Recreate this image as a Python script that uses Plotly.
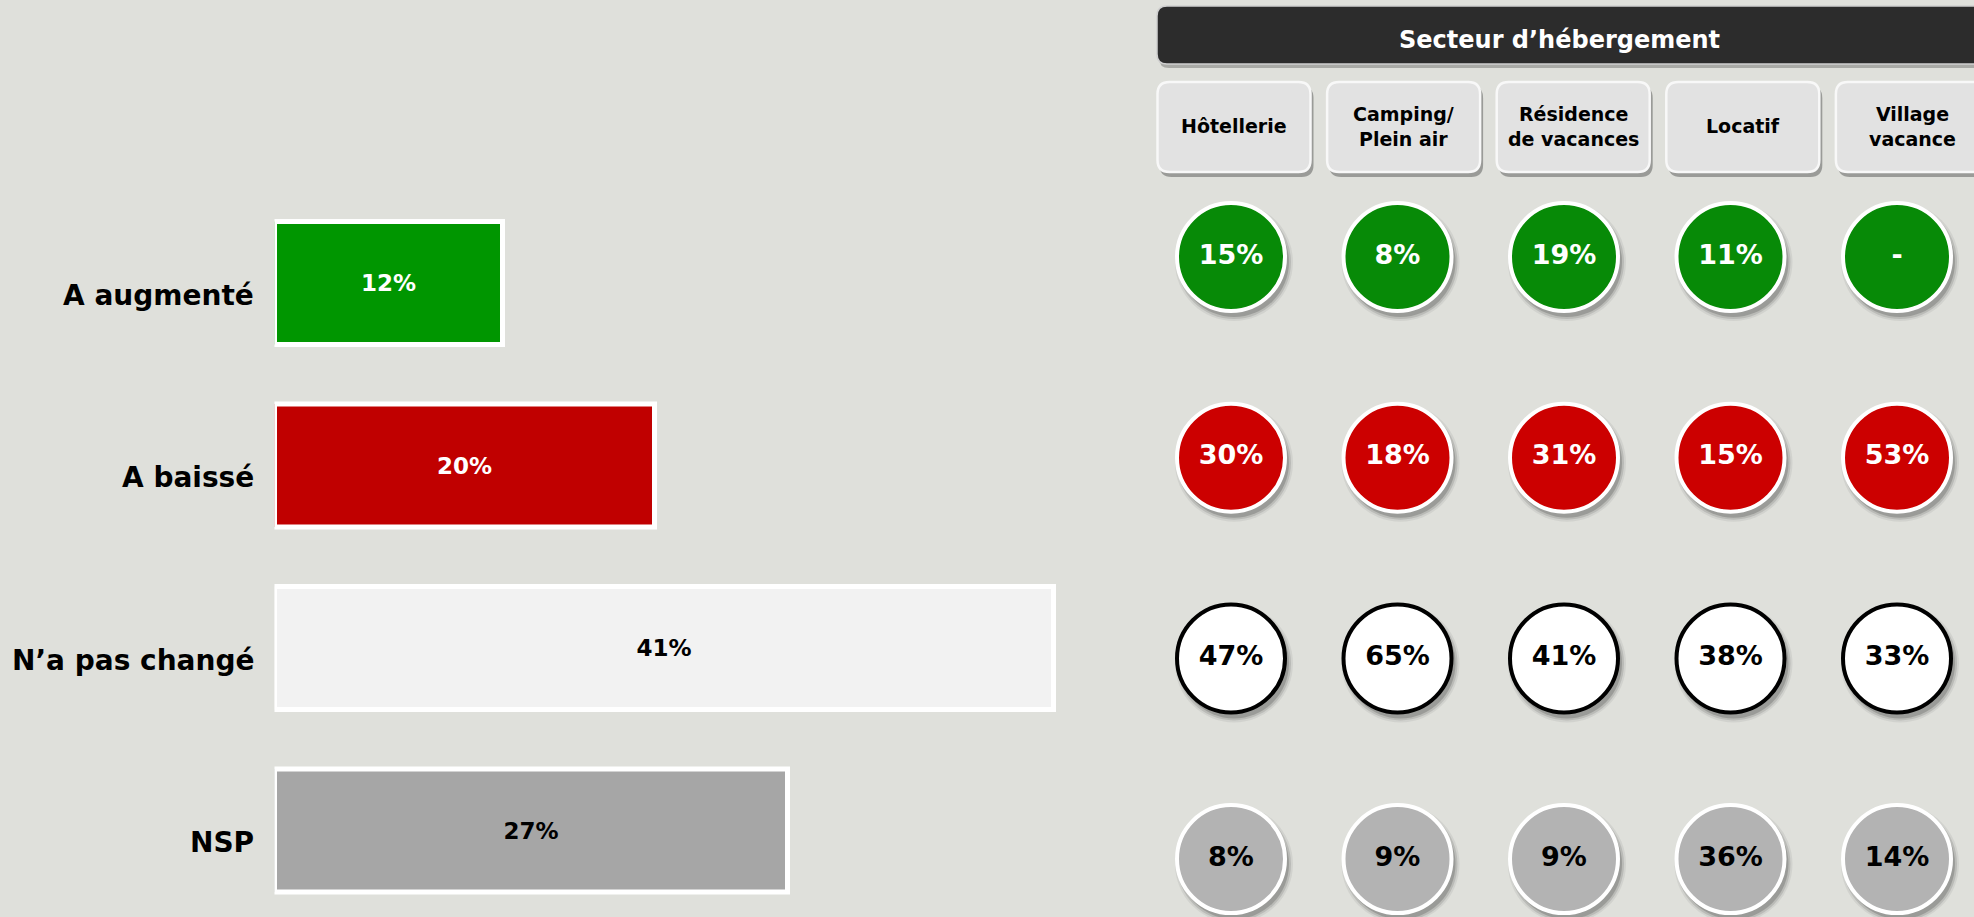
import plotly.graph_objects as go

# ---------------- data ----------------
responses = ["A augmenté", "A baissé", "N’a pas changé", "NSP"]
overall = [12, 20, 41, 27]

sectors = ["Hôtellerie", "Camping/Plein air", "Résidence de vacances", "Locatif", "Village vacance"]
sector_labels = ["Hôtellerie", "Camping/<br>Plein air", "Résidence<br>de vacances", "Locatif", "Village<br>vacance"]
panel_title = "Secteur d’hébergement"

aug_by_sector = [15, 8, 19, 11, None]
bai_by_sector = [30, 18, 31, 15, 53]
pas_by_sector = [47, 65, 41, 38, 33]
nsp_by_sector = [8, 9, 9, 36, 14]
by_sector = [aug_by_sector, bai_by_sector, pas_by_sector, nsp_by_sector]

# ---------------- style ----------------
W, H = 1974, 917
BG = "#dfe0db"
FONT = "DejaVu Sans, Verdana, sans-serif"
bar_colors = ["#009600", "#c00000", "#f2f2f2", "#a6a6a6"]
circle_colors = ["#078a07", "#cc0000", "#ffffff", "#b3b3b3"]
circle_line = ["#ffffff", "#ffffff", "#000000", "#ffffff"]
text_colors = ["#ffffff", "#ffffff", "#000000", "#000000"]


def X(p):
    return p / W


def Y(p):
    return 1 - p / H


def rrect(x0, y0, x1, y1, r):
    return (f"M {X(x0+r)},{Y(y0)} L {X(x1-r)},{Y(y0)} Q {X(x1)},{Y(y0)} {X(x1)},{Y(y0+r)} "
            f"L {X(x1)},{Y(y1-r)} Q {X(x1)},{Y(y1)} {X(x1-r)},{Y(y1)} "
            f"L {X(x0+r)},{Y(y1)} Q {X(x0)},{Y(y1)} {X(x0)},{Y(y1-r)} "
            f"L {X(x0)},{Y(y0+r)} Q {X(x0)},{Y(y0)} {X(x0+r)},{Y(y0)} Z")


fig = go.Figure()

# ---------------- left: horizontal bars ----------------
fig.add_trace(go.Bar(
    x=overall, y=responses, orientation="h",
    marker=dict(color=bar_colors, line=dict(color="#ffffff", width=5)),
    width=0.674,
    text=[f"<b>{v}%</b>" for v in overall],
    textposition="inside", insidetextanchor="middle",
    textfont=dict(family=FONT, size=23, color=text_colors),
    hoverinfo="skip", showlegend=False,
    xaxis="x", yaxis="y",
))

# ---------------- right: circles ----------------
xs, ys, txt, fills, lines, tcols = [], [], [], [], [], []
for r, row in enumerate(by_sector):
    for c, v in enumerate(row):
        xs.append(c)
        ys.append(r)
        txt.append("<b>-</b>" if v is None else f"<b>{v}%</b>")
        fills.append(circle_colors[r])
        lines.append(circle_line[r])
        tcols.append(text_colors[r])

dx, dy = 3 / 166.5, 5 / 200.7
for size, alpha in [(118, 0.06), (114, 0.11), (110, 0.17)]:
    fig.add_trace(go.Scatter(
        x=[v + dx for v in xs], y=[v + dy for v in ys], mode="markers",
        marker=dict(size=size, color=f"rgba(0,0,0,{alpha})", line=dict(width=0)),
        hoverinfo="skip", showlegend=False, xaxis="x2", yaxis="y2",
    ))

fig.add_trace(go.Scatter(
    x=xs, y=ys, mode="markers+text",
    marker=dict(size=108, color=fills, line=dict(color=lines, width=4)),
    text=txt, textposition="middle center",
    textfont=dict(family=FONT, size=27, color=tcols),
    hoverinfo="skip", showlegend=False, xaxis="x2", yaxis="y2",
))

# ---------------- decorations ----------------
shapes = []
annotations = []

# header bar
shapes.append(dict(type="path", xref="paper", yref="paper", path=rrect(1159, 9, 2010, 68, 10),
                   fillcolor="#a9aaa6", line=dict(width=0), layer="below"))
shapes.append(dict(type="path", xref="paper", yref="paper", path=rrect(1157, 6, 2008, 64, 10),
                   fillcolor="#2c2c2c", line=dict(color="#cfcfcf", width=1.5), layer="below"))
annotations.append(dict(text=f"<b>{panel_title}</b>", xref="paper", yref="paper",
                        x=X(1559), y=Y(40), xanchor="center", yanchor="middle", showarrow=False,
                        font=dict(family=FONT, size=24, color="#ffffff")))

# column header buttons
for i, lab in enumerate(sector_labels):
    cx = 1234 + 169.6 * i
    x0, x1, y0, y1 = cx - 76.5, cx + 76.5, 82, 172
    shapes.append(dict(type="path", xref="paper", yref="paper", path=rrect(x0 + 2, y0 + 4, x1 + 3, y1 + 5, 12),
                       fillcolor="#9a9b98", line=dict(width=0), layer="below"))
    shapes.append(dict(type="path", xref="paper", yref="paper", path=rrect(x0, y0, x1, y1, 12),
                       fillcolor="#e2e2e2", line=dict(color="#f8f8f8", width=2.5), layer="below"))
    annotations.append(dict(text=f"<b>{lab}</b>", xref="paper", yref="paper",
                            x=X(cx), y=Y(126), xanchor="center", yanchor="middle", showarrow=False,
                            font=dict(family=FONT, size=19, color="#000000")))

# category labels for bars
for resp in responses:
    annotations.append(dict(text=f"<b>{resp}</b>", xref="paper", yref="y",
                            x=X(256), y=resp, xanchor="right", yanchor="middle", yshift=-12,
                            showarrow=False, font=dict(family=FONT, size=28, color="#000000")))

bar_top = -283 / 182.5
bar_bot = (H - 283) / 182.5
c_left = (1100 - 1231) / 166.5
c_right = (W - 1231) / 166.5
r_top = -257 / 200.7
r_bot = (H - 257) / 200.7

fig.update_layout(
    width=W, height=H,
    margin=dict(l=0, r=0, t=0, b=0),
    paper_bgcolor=BG, plot_bgcolor="rgba(0,0,0,0)",
    shapes=shapes, annotations=annotations,
    xaxis=dict(domain=[X(274.5), X(274.5 + 45 * 19)], range=[0, 45], visible=False, fixedrange=True),
    yaxis=dict(domain=[0, 1], type="category", categoryorder="array", categoryarray=responses,
               range=[bar_bot, bar_top], visible=False, fixedrange=True),
    xaxis2=dict(domain=[X(1100), 1], range=[c_left, c_right], visible=False, anchor="y2", fixedrange=True),
    yaxis2=dict(domain=[0, 1], range=[r_bot, r_top], visible=False, anchor="x2", fixedrange=True),
    bargap=0.3,
)

fig.write_html("out.html", config={"displayModeBar": False},
               post_script="document.body.style.margin='0';document.body.style.overflow='hidden';")
